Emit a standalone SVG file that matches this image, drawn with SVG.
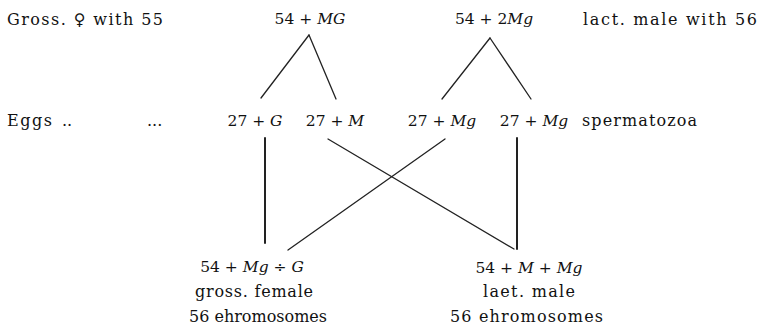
<svg xmlns="http://www.w3.org/2000/svg" width="760" height="330" viewBox="0 0 760 330">
<style>
text{font-family:"DejaVu Serif",serif;font-size:16px;fill:#111}
.m{font-size:15.5px;text-anchor:middle}
.i{font-style:italic}
.c line{stroke:#222;stroke-width:1.3;stroke-linecap:round}
.c line.v{stroke-width:2}
</style>
<rect width="760" height="330" fill="#fff"/>
<g id="label-gross"><text x="7" y="25" textLength="156" lengthAdjust="spacing">Gross. ♀ with 55</text></g>
<g id="n-54MG"><text class="m" x="310" y="24">54 + <tspan class="i">MG</tspan></text></g>
<g id="n-542Mg"><text class="m" x="494" y="24">54 + 2<tspan class="i">Mg</tspan></text></g>
<g id="label-lact"><text x="583" y="25" textLength="174" lengthAdjust="spacing">lact. male with 56</text></g>
<g id="label-eggs"><text x="7" y="126" textLength="45" lengthAdjust="spacing">Eggs</text><text x="62" y="126" fill="#999">..</text><text x="147" y="126">...</text></g>
<g id="n-27G"><text class="m" x="255" y="126">27 + <tspan class="i">G</tspan></text></g>
<g id="n-27M"><text class="m" x="335" y="126">27 + <tspan class="i">M</tspan></text></g>
<g id="n-27Mg-a"><text class="m" x="442" y="126">27 + <tspan class="i">Mg</tspan></text></g>
<g id="n-27Mg-b"><text class="m" x="534" y="126">27 + <tspan class="i">Mg</tspan></text></g>
<g id="label-sperm"><text x="582" y="126" textLength="115" lengthAdjust="spacing">spermatozoa</text></g>
<g id="n-female"><text class="m" x="252" y="272">54 + <tspan class="i">Mg</tspan> ÷ <tspan class="i">G</tspan></text><text x="195" y="297" textLength="118" lengthAdjust="spacing">gross. female</text><text x="258" y="322" text-anchor="middle">56 ehromosomes</text></g>
<g id="n-male"><text class="m" x="529" y="273">54 + <tspan class="i">M</tspan> + <tspan class="i">Mg</tspan></text><text x="483" y="297" textLength="92" lengthAdjust="spacing">laet. male</text><text x="450" y="322" textLength="153" lengthAdjust="spacing">56 ehromosomes</text></g>
<g id="connectors" class="c">
<line x1="309" y1="35" x2="261" y2="98"/>
<line x1="309" y1="35" x2="336" y2="99"/>
<line x1="490" y1="38" x2="442" y2="99"/>
<line x1="490" y1="38" x2="531" y2="99"/>
<line class="v" x1="265" y1="138" x2="265" y2="243"/>
<line x1="328" y1="139" x2="514" y2="249"/>
<line x1="445" y1="139" x2="288" y2="250"/>
<line class="v" x1="517" y1="138" x2="517" y2="249"/>
</g>
</svg>
